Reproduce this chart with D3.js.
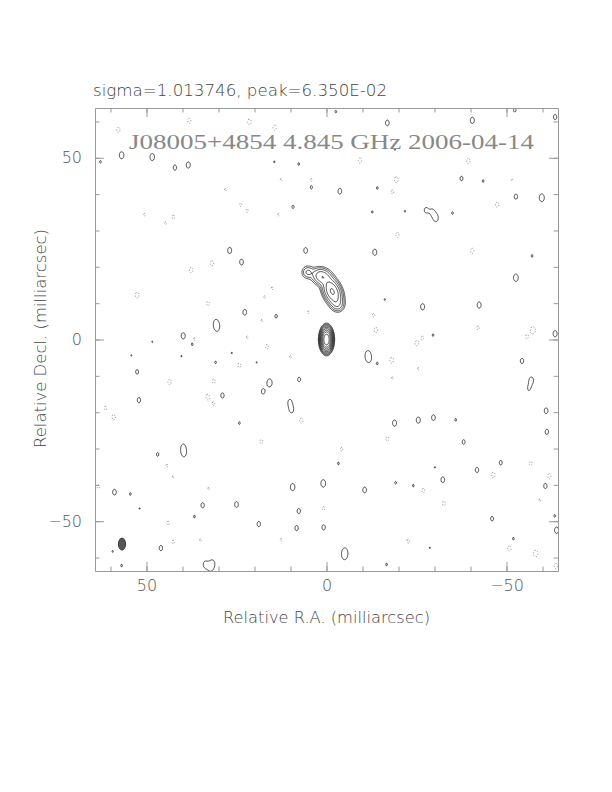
<!DOCTYPE html>
<html>
<head>
<meta charset="utf-8">
<script src="https://cdn.jsdelivr.net/npm/d3@7"></script>
<style>
  body { margin: 0; background: #fff; }
  svg { display: block; }
</style>
</head>
<body>
<div id="chart"></div>
<script>
// contour levels, % of peak (peak = 100)
const levels = [0.2, 0.4, 0.8, 1.6, 3.2, 6.4, 12.8, 25.6, 51.2];

// source model: [RA mas, Dec mas, amp %, fwhm major, fwhm minor, PA deg]
const sourceComps = [
  [0.0, 0.0, 100, 3.0, 1.5, 0],
  [-1.6, 13.2, 7.0, 4.6, 2.7, 24],
  [1.3, 17.3, 3.0, 3.4, 2.7, 65],
  [5.2, 18.5, 0.9, 2.3, 2.2, 0],
  [-2.9, 9.8, 1.3, 2.6, 2.3, 20]
];

// restoring beam: [RA, Dec, fwhm RA, fwhm Dec]
const beam = [56.8, -56.3, 2.0, 3.3];

// shape of the noise peaks: [fwhm RA, fwhm Dec]
const noiseShape = [1.8, 2.8];

// positive noise peaks: [RA, Dec, height over lowest level]
const noisePos = [
  [56.9, 50.7, 1.4], [48.4, 50.2, 1.4], [42.1, 47.3, 1.2], [38.4, 48.0, 1.3],
  [7.7, 48.3, 1.05], [4.2, 41.9, 1.08], [9.3, 36.5, 1.08], [26.9, 24.5, 1.3],
  [5.8, 24.5, 1.25], [23.6, 21.3, 1.25], [22.7, 7.5, 1.25], [14.0, 6.4, 1.1],
  [30.7, 4.6, 1.15], [30.4, 3.2, 1.15], [39.8, 1.0, 1.3], [62.8, 48.9, 1.05],
  [14.5, 48.9, 1.03], [-2.6, 62.7, 1.05], [-16.9, 59.6, 1.25], [-40.5, 60.3, 1.3],
  [-52.3, 63.1, 1.1], [-63.5, 61.2, 1.2], [-3.7, 40.8, 1.25], [-14.1, 41.7, 1.05],
  [-37.5, 44.3, 1.15], [-43.5, 43.6, 1.05], [-52.6, 39.3, 1.2], [-59.8, 39.0, 1.5],
  [-27.6, 35.6, 1.15], [-30.4, 33.4, 1.35], [-29.4, 35.1, 1.1], [-35.0, 34.8, 1.05],
  [-12.7, 35.1, 1.04], [-21.8, 35.3, 1.03], [-13.4, 24.0, 1.3], [-57.1, 23.0, 1.05],
  [-52.6, 17.0, 1.45], [-26.7, 9.0, 1.3], [-42.4, 9.5, 1.3], [-16.2, 11.0, 1.03],
  [-63.5, 1.6, 1.3], [-29.6, 1.2, 1.05], [-19.0, 52.3, 1.03],
  [37.3, -1.3, 1.05], [52.6, -8.9, 1.15], [52.1, -16.7, 1.2], [30.8, -6.3, 1.05],
  [28.9, -15.4, 1.2], [17.6, -14.3, 1.2], [15.8, -11.9, 1.5], [7.6, -11.0, 1.15],
  [10.2, -17.2, 1.15], [9.7, -19.4, 1.2], [24.2, -23.0, 1.05], [46.9, -31.6, 1.1],
  [39.8, -29.6, 1.15], [39.6, -31.4, 1.2], [58.9, -42.0, 1.25], [54.5, -42.5, 1.05],
  [34.4, -45.6, 1.2], [25.0, -45.4, 1.25], [36.7, -48.7, 1.05], [9.4, -40.6, 1.4],
  [0.9, -39.6, 1.45], [7.7, -47.2, 1.2], [18.8, -50.8, 1.2], [8.3, -51.9, 1.2],
  [0.8, -51.7, 1.2], [46.0, -57.4, 1.2], [33.7, -61.9, 1.25], [32.2, -62.8, 1.15],
  [31.6, -61.5, 1.05], [56.9, -62.2, 1.05], [59.4, -58.3, 1.03], [54.2, -4.4, 1.02],
  [40.3, -4.6, 1.02], [26.3, -3.7, 1.02], [19.4, -6.3, 1.02], [48.4, -0.6, 1.02],
  [51.9, -46.5, 1.02],
  [-11.5, -4.0, 1.15], [-11.7, -5.4, 1.15], [-14.1, -6.6, 1.05], [-54.3, -5.9, 1.2],
  [-56.9, -11.2, 1.3], [-61.0, -19.6, 1.25], [-61.2, -25.4, 1.2], [-18.9, -23.0, 1.3],
  [-25.5, -22.2, 1.3], [-29.7, -21.5, 1.25], [-35.9, -22.1, 1.05], [-38.1, -28.2, 1.15],
  [-48.4, -33.9, 1.15], [-41.8, -35.9, 1.2], [-32.3, -38.6, 1.25], [-10.6, -41.4, 1.25],
  [-3.3, -34.1, 1.05], [-19.2, -39.4, 1.05], [-24.1, -40.2, 1.05], [-46.0, -49.3, 1.15],
  [-51.9, -54.8, 1.05], [-60.8, -40.3, 1.2], [-63.9, -52.5, 1.3], [-5.1, -58.3, 1.15],
  [-5.0, -59.6, 1.15], [-16.7, -61.9, 1.05], [-63.4, -48.5, 1.05], [-56.2, -13.6, 1.02],
  [-28.7, -57.3, 1.02], [-30.1, -35.2, 1.02]
];

// negative noise peaks (dotted contours): [RA, Dec, depth over lowest level]
const noiseNeg = [
  [57.8, 57.7, 1.2], [38.1, 60.2, 1.2], [21.4, 59.9, 1.25], [14.4, 58.3, 1.2],
  [50.6, 34.3, 1.05], [42.5, 33.7, 1.1], [44.7, 32.0, 1.05], [31.8, 21.0, 1.2],
  [37.6, 19.1, 1.2], [52.6, 12.2, 1.25], [32.9, 9.9, 1.15], [15.1, 14.1, 1.05],
  [17.2, 11.6, 1.05], [22.0, 35.4, 1.05], [23.9, 37.1, 1.05], [28.1, 41.2, 1.05],
  [12.6, 44.0, 1.05], [4.2, 43.9, 1.05], [17.9, 5.2, 1.05], [5.0, 7.5, 1.05],
  [22.0, 0.6, 1.05], [36.7, 0.1, 1.05], [13.4, 34.3, 1.05],
  [-9.3, 49.3, 1.2], [-39.4, 49.1, 1.2], [-19.4, 44.0, 1.25], [-18.3, 40.6, 1.1],
  [-47.4, 37.1, 1.2], [-19.7, 28.8, 1.2], [-40.5, 24.4, 1.2], [-13.1, 6.7, 1.1],
  [-13.7, 2.6, 1.2], [-42.1, 3.2, 1.1], [-57.4, 2.6, 1.4], [-55.6, 0.7, 1.1],
  [-26.7, 0.5, 1.05], [-51.5, 43.9, 1.03],
  [16.5, -2.0, 1.15], [10.0, -4.8, 1.05], [24.2, -7.1, 1.15], [43.6, -11.7, 1.2],
  [31.3, -11.5, 1.15], [33.0, -15.8, 1.2], [31.3, -17.7, 1.05], [61.4, -18.9, 1.1],
  [59.1, -21.4, 1.2], [7.0, -22.3, 1.2], [18.1, -28.1, 1.15], [44.3, -34.7, 1.05],
  [42.6, -37.8, 1.05], [32.7, -41.0, 1.05], [63.4, -40.5, 1.1], [0.8, -46.5, 1.1],
  [44.0, -50.5, 1.1], [42.6, -55.7, 1.1], [35.0, -55.2, 1.05], [12.6, -55.1, 1.05],
  [-18.1, -5.7, 1.25], [-18.3, -10.6, 1.05], [-25.5, -8.1, 1.05], [-25.0, -1.1, 1.15],
  [-16.9, -27.3, 1.15], [-4.2, -30.2, 1.1], [-26.9, -41.6, 1.15], [-32.6, -45.1, 1.15],
  [-46.3, -37.3, 1.25], [-56.7, -34.1, 1.15], [-61.9, -37.6, 1.2], [-59.3, -44.2, 1.05],
  [-50.8, -57.5, 1.2], [-58.1, -58.9, 1.35], [-22.7, -55.5, 1.1], [-63.7, -62.3, 1.2]
];

const majorTicks = [-50, 0, 50];
const minorTicks = [-60, -50, -40, -30, -20, -10, 0, 10, 20, 30, 40, 50, 60];

const titleText = "sigma=1.013746, peak=6.350E-02";
const mapTitle = "J08005+4854 4.845 GHz  2006-04-14";

const width = 612, height = 792;
const fLeft = 95, fRight = 558, fTop = 108, fBottom = 571;

const x = d3.scaleLinear().domain([64.3, -64.3]).range([fLeft, fRight]);
const y = d3.scaleLinear().domain([-63.7, 63.7]).range([fBottom, fTop]);

const svg = d3.select("#chart").append("svg")
    .attr("width", width)
    .attr("height", height);

svg.append("rect").attr("width", width).attr("height", height).attr("fill", "#fff");

svg.append("defs").append("clipPath").attr("id", "frame")
    .append("rect")
    .attr("x", fLeft).attr("y", fTop)
    .attr("width", fRight - fLeft).attr("height", fBottom - fTop);

// --- grid ---
const step = 0.2;
const gx0 = -64.6, gy0 = -64.0;
const n = 647, m = 641;

function addGauss(grid, cx, cy, amp, fmaj, fmin, pa) {
    const sMaj = fmaj / 2.3548, sMin = fmin / 2.3548;
    const t = pa * Math.PI / 180, st = Math.sin(t), ct = Math.cos(t);
    const reach = 4.5 * Math.max(sMaj, sMin);
    const i0 = Math.max(0, Math.floor((cx - reach - gx0) / step));
    const i1 = Math.min(n - 1, Math.ceil((cx + reach - gx0) / step));
    const j0 = Math.max(0, Math.floor((cy - reach - gy0) / step));
    const j1 = Math.min(m - 1, Math.ceil((cy + reach - gy0) / step));
    for (let j = j0; j <= j1; j++) {
        const dy = gy0 + j * step - cy;
        for (let i = i0; i <= i1; i++) {
            const dx = gx0 + i * step - cx;
            const u = dx * st + dy * ct;
            const v = dx * ct - dy * st;
            grid[j * n + i] += amp * Math.exp(-0.5 * (u * u / (sMaj * sMaj) + v * v / (sMin * sMin)));
        }
    }
}

const pos = new Float64Array(n * m);
const neg = new Float64Array(n * m);

sourceComps.forEach(d => addGauss(pos, d[0], d[1], d[2], d[3], d[4], d[5]));
noisePos.forEach(d => addGauss(pos, d[0], d[1], d[2] * levels[0], noiseShape[1], noiseShape[0], 0));
noiseNeg.forEach(d => addGauss(neg, d[0], d[1], d[2] * levels[0], noiseShape[1], noiseShape[0], 0));

const toPlot = d3.geoTransform({
    point: function (px, py) {
        this.stream.point(x(gx0 + (px - 0.5) * step), y(gy0 + (py - 0.5) * step));
    }
});
const path = d3.geoPath(toPlot);

const g = svg.append("g").attr("clip-path", "url(#frame)");

g.selectAll(".pos")
    .data(d3.contours().size([n, m]).thresholds(levels)(pos))
    .enter().append("path")
    .attr("class", "pos")
    .attr("d", path)
    .attr("fill", "none")
    .attr("stroke", "#111")
    .attr("stroke-width", 0.75);

g.selectAll(".neg")
    .data(d3.contours().size([n, m]).thresholds([levels[0]])(neg))
    .enter().append("path")
    .attr("class", "neg")
    .attr("d", path)
    .attr("fill", "none")
    .attr("stroke", "#666")
    .attr("stroke-width", 0.75)
    .attr("stroke-dasharray", "1,1.8");

// beam
g.append("ellipse")
    .attr("cx", x(beam[0]))
    .attr("cy", y(beam[1]))
    .attr("rx", Math.abs(x(beam[2] / 2) - x(0)))
    .attr("ry", Math.abs(y(beam[3] / 2) - y(0)))
    .attr("fill", "#555")
    .attr("stroke", "#222")
    .attr("stroke-width", 0.8);

// --- axes ---
function styleAxis(sel) {
    sel.selectAll("path.domain").attr("stroke", "#999").attr("stroke-width", 1);
    sel.selectAll(".tick line").attr("stroke", "#999").attr("stroke-width", 1);
    sel.selectAll(".tick text")
        .attr("fill", "#555")
        .style("font-family", "'DejaVu Sans', sans-serif")
        .style("font-weight", 200)
        .style("font-size", "16px");
}

const sides = [
    { make: () => d3.axisBottom(x), at: "translate(0," + fBottom + ")", labels: true, pad: 9 },
    { make: () => d3.axisTop(x), at: "translate(0," + fTop + ")", labels: false, pad: 9 },
    { make: () => d3.axisLeft(y), at: "translate(" + fLeft + ",0)", labels: true, pad: 13 },
    { make: () => d3.axisRight(y), at: "translate(" + fRight + ",0)", labels: false, pad: 13 }
];

sides.forEach(s => {
    svg.append("g").attr("transform", s.at)
        .call(s.make().tickValues(minorTicks).tickSizeInner(-4.5).tickSizeOuter(0).tickFormat(""))
        .call(styleAxis);
    const major = svg.append("g").attr("transform", s.at)
        .call(s.make().tickValues(majorTicks).tickSizeInner(-9).tickSizeOuter(0)
            .tickPadding(s.pad)
            .tickFormat(s.labels ? d3.format("") : ""))
        .call(styleAxis);
    major.select("path.domain").remove();
});

// --- texts ---
const textStyle = sel => sel
    .attr("fill", "#444")
    .style("font-family", "'DejaVu Sans', sans-serif")
    .style("font-weight", 200);

svg.append("text")
    .attr("x", 93).attr("y", 96)
    .attr("textLength", 294).attr("lengthAdjust", "spacingAndGlyphs")
    .style("font-size", "15px")
    .call(textStyle)
    .text(titleText);

svg.append("text")
    .attr("x", 129).attr("y", 149)
    .attr("textLength", 405).attr("lengthAdjust", "spacingAndGlyphs")
    .attr("fill", "#888")
    .style("font-family", "'Liberation Serif', serif")
    .style("font-size", "21px")
    .text(mapTitle);

svg.append("text")
    .attr("x", 223).attr("y", 623)
    .attr("textLength", 207).attr("lengthAdjust", "spacingAndGlyphs")
    .style("font-size", "15px")
    .call(textStyle)
    .text("Relative R.A. (milliarcsec)");

svg.append("text")
    .attr("transform", "translate(46,448) rotate(-90)")
    .attr("textLength", 219).attr("lengthAdjust", "spacingAndGlyphs")
    .style("font-size", "15px")
    .call(textStyle)
    .text("Relative Decl. (milliarcsec)");
</script>
</body>
</html>
